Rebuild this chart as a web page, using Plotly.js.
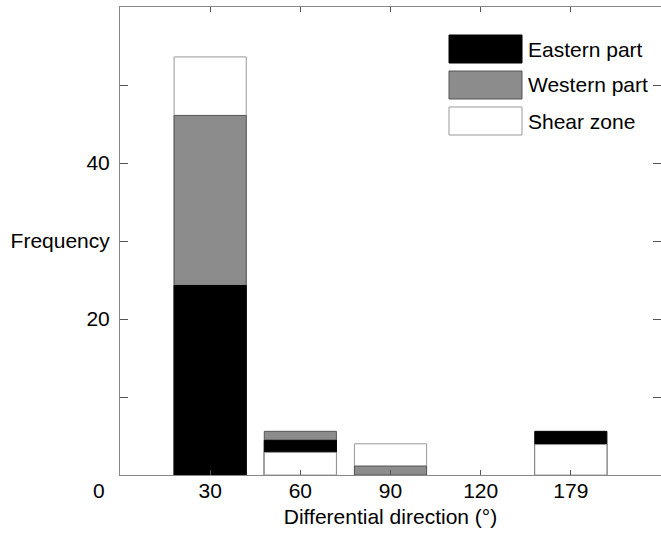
<!DOCTYPE html>
<html>
<head>
<meta charset="utf-8">
<script src="https://cdn.plot.ly/plotly-3.0.1.min.js"></script>
<style>html,body{margin:0;padding:0;background:#fff;}#chart{width:661px;height:534px;}</style>
</head>
<body>
<div id="chart"></div>
<script>
// ---- data ----
const categories = ['30', '60', '90', '120', '179'];
const seriesNames = ['Eastern part', 'Western part', 'Shear zone'];
const eastern = [24.3, 4.45, null, null, 5.6];
const western = [46.1, 5.6, 1.15, null, null];
const shear   = [53.6, 2.9, 4.0, null, 3.9];
const yTickVals = [10, 20, 30, 40, 50];
const yTickText = ['', '20', 'Frequency', '40', ''];
const xTitle = 'Differential direction (°)';
const zeroLabel = '0';

// ---- styling ----
const seriesData = [eastern, western, shear];
const fills = ['#000000', '#8c8c8c', '#ffffff'];
const edges = ['#000000', '#555555', '#999999'];
const FONT = 'Liberation Sans, Arial, sans-serif';
const W = 661, H = 534;
const M = {l: 120, r: 0, t: 7, b: 59};

// overlay bars: in each category draw the tallest first so shorter ones stay visible
const traces = [];
categories.forEach((cat, i) => {
  const items = [];
  seriesData.forEach((arr, s) => { if (arr[i] !== null) items.push({s: s, v: arr[i]}); });
  items.sort((a, b) => b.v - a.v);
  items.forEach(it => {
    traces.push({
      type: 'bar', x: [cat], y: [it.v], width: 0.8,
      name: seriesNames[it.s], showlegend: false, hoverinfo: 'x+y+name',
      marker: {color: fills[it.s], line: {color: edges[it.s], width: 1}}
    });
  });
});

// custom legend (big swatches) in paper coordinates
const pw = W - M.l - M.r, ph = H - M.t - M.b;
const px2x = p => (p - M.l) / pw;
const px2y = p => (H - M.b - p) / ph;
const shapes = [], annotations = [];
const swTop = [35, 71, 107], swH = 28;
seriesNames.forEach((nm, s) => {
  shapes.push({type: 'rect', xref: 'paper', yref: 'paper',
    x0: px2x(449), x1: px2x(522), y0: px2y(swTop[s] + swH), y1: px2y(swTop[s]),
    fillcolor: fills[s], line: {color: edges[s], width: 1}});
  annotations.push({xref: 'paper', yref: 'paper', x: px2x(526), y: px2y(swTop[s] + swH / 2),
    xanchor: 'left', yanchor: 'middle', showarrow: false, text: nm,
    font: {family: FONT, size: 21, color: '#000'}});
});
annotations.push({xref: 'paper', yref: 'y', x: 0, y: 0, xanchor: 'right', yanchor: 'middle',
  xshift: -13, yshift: -15, showarrow: false, text: zeroLabel,
  font: {family: FONT, size: 21, color: '#000'}});

const layout = {
  width: W, height: H, margin: M,
  paper_bgcolor: '#fff', plot_bgcolor: '#fff',
  barmode: 'overlay', showlegend: false,
  font: {family: FONT, size: 21, color: '#000'},
  xaxis: {
    type: 'category', categoryarray: categories, range: [-1, 5],
    showline: true, linecolor: '#888', linewidth: 1, mirror: 'ticks',
    ticks: 'inside', ticklen: 5, tickcolor: '#555', tickwidth: 1,
    showgrid: false, zeroline: false, fixedrange: true,
    title: {text: xTitle, font: {family: FONT, size: 21, color: '#000'}, standoff: 8},
    tickfont: {family: FONT, size: 21, color: '#000'}, ticklabelstandoff: -3
  },
  yaxis: {
    range: [0, 60], tickmode: 'array', tickvals: yTickVals, ticktext: yTickText,
    showline: true, linecolor: '#888', linewidth: 1, mirror: 'ticks',
    ticks: 'inside', ticklen: 8, tickcolor: '#555', tickwidth: 1,
    showgrid: false, zeroline: false, fixedrange: true,
    tickfont: {family: FONT, size: 21, color: '#000'}, ticklabelstandoff: 5
  },
  shapes: shapes, annotations: annotations
};

Plotly.newPlot('chart', traces, layout, {displayModeBar: false, staticPlot: true});
</script>
</body>
</html>
